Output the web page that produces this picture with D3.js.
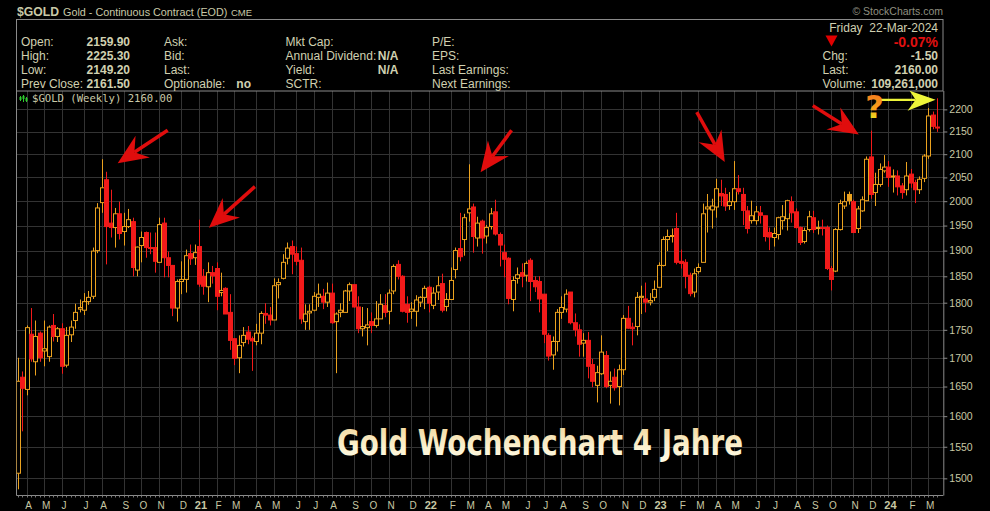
<!DOCTYPE html>
<html><head><meta charset="utf-8">
<script src="https://cdn.jsdelivr.net/npm/d3@7"></script>
<style>
html,body{margin:0;padding:0;background:#000;}
svg{display:block;}
text{white-space:pre;}
</style>
</head><body>
<svg id="c" width="990" height="511"></svg>
<script>
// ---------------- DATA ----------------
const firstWeek = "2020-03-23"; // Monday of first weekly candle
const opens = [1508,1666,1645,1742,1693,1744,1712,1702,1758,1738,1752,1687,1741,1767,1788,1786,1802,1812,1900,1997,
2045,1955,1946,1974,1938,1948,1958,1862,1910,1936,1906,1906,1877,1955,1886,1871,1790,1840,1844,1894,
1886,1908,1850,1830,1857,1865,1819,1827,1782,1734,1700,1727,1746,1734,1729,1744,1780,1777,1768,1834,
1846,1885,1908,1894,1881,1765,1781,1786,1810,1812,1801,1818,1765,1782,1782,1822,1834,1792,1752,1754,
1765,1758,1770,1795,1784,1822,1873,1850,1797,1784,1784,1801,1810,1829,1795,1820,1836,1793,1806,1863,
1904,1922,1976,1988,1925,1959,1929,1948,1978,1932,1896,1885,1806,1846,1857,1852,1881,1842,1840,1816,
1740,1705,1729,1782,1788,1820,1763,1750,1726,1731,1688,1652,1672,1704,1652,1666,1650,1679,1771,1755,
1756,1810,1807,1801,1810,1829,1871,1922,1928,1944,1879,1877,1852,1820,1859,1877,1984,1982,1988,2016,
2014,1991,1999,2026,2014,1980,1960,1960,1976,1970,1936,1926,1932,1960,1964,1999,1978,1946,1918,1942,
1966,1944,1946,1946,1865,1860,1942,1990,2014,1999,1944,1980,2001,2094,2018,2035,2064,2072,2053,2053,
2032,2024,2057,2039,2024,2048,2096,2187,2159.9];
const highs = [1700,1676,1758,1790,1767,1747,1767,1758,1779,1755,1762,1755,1767,1798,1806,1818,1822,1906,1996,2089,
2062,2024,1986,1999,1976,1984,1966,1908,1938,1938,1936,1936,1966,1966,1898,1872,1844,1879,1902,1912,
1912,1962,1864,1877,1870,1877,1857,1829,1816,1734,1740,1755,1757,1738,1761,1784,1799,1792,1846,1846,
1893,1916,1920,1908,1906,1797,1797,1820,1836,1826,1838,1836,1782,1799,1824,1838,1834,1812,1792,1790,
1782,1803,1816,1816,1825,1873,1881,1852,1812,1801,1814,1812,1832,1832,1829,1850,1855,1818,1867,1906,
1976,1974,2078,1995,1968,1962,1951,1986,2003,1936,1912,1887,1850,1867,1875,1879,1885,1850,1850,1816,
1744,1738,1788,1812,1825,1820,1780,1760,1744,1746,1698,1686,1740,1712,1676,1681,1688,1777,1794,1763,
1820,1832,1838,1818,1842,1877,1928,1942,1944,1976,1902,1883,1857,1865,1875,1995,2015,2005,2047,2045,
2028,2019,2085,2055,2028,1990,2001,1990,1990,1970,1946,1946,1968,1992,2003,2010,1985,1948,1946,1980,
1980,1960,1962,1950,1870,1945,2003,2020,2020,2003,1990,2010,2095,2152,2060,2080,2098,2085,2067,2065,
2038,2083,2068,2045,2052,2100,2203,2195,2225.3];
const lows = [1483,1575,1635,1693,1669,1693,1685,1693,1729,1728,1672,1683,1728,1752,1782,1777,1796,1807,1895,1976,
1873,1926,1906,1922,1910,1945,1850,1850,1877,1886,1893,1857,1877,1848,1848,1775,1765,1816,1819,1872,
1872,1830,1815,1801,1836,1786,1812,1779,1714,1687,1673,1720,1724,1677,1722,1724,1761,1758,1768,1808,
1844,1873,1854,1871,1761,1750,1750,1784,1792,1788,1792,1761,1673,1773,1782,1803,1791,1744,1738,1722,
1744,1754,1770,1773,1760,1816,1844,1782,1763,1770,1756,1792,1788,1782,1788,1805,1782,1784,1806,1846,
1879,1890,1958,1896,1908,1894,1914,1942,1930,1869,1848,1797,1784,1836,1829,1840,1803,1820,1782,1726,
1695,1679,1711,1770,1782,1760,1738,1702,1702,1664,1649,1623,1670,1647,1621,1643,1618,1670,1752,1722,
1740,1779,1782,1795,1803,1829,1869,1899,1916,1873,1865,1827,1812,1810,1855,1877,1936,1944,1966,1990,
1980,1982,1982,2014,1951,1934,1954,1952,1954,1918,1901,1908,1922,1942,1940,1956,1944,1911,1914,1938,
1935,1932,1930,1862,1823,1858,1940,1984,1993,1935,1935,1978,2000,2005,1990,2030,2060,2030,2018,2012,
2005,2012,2028,1996,2015,2040,2090,2155,2149.2];
const closes = [1659,1647,1754,1698,1738,1700,1716,1755,1738,1752,1685,1740,1755,1782,1791,1802,1810,1899,1986,2028,
1948,1946,1974,1934,1948,1962,1867,1907,1926,1906,1904,1879,1952,1886,1871,1790,1840,1844,1890,1884,
1896,1835,1831,1857,1851,1812,1823,1779,1731,1699,1722,1740,1733,1730,1744,1780,1777,1768,1832,1838,
1877,1905,1893,1879,1770,1779,1784,1812,1816,1801,1818,1763,1779,1786,1822,1834,1792,1752,1756,1759,
1758,1770,1797,1782,1818,1869,1850,1784,1782,1788,1805,1810,1827,1799,1818,1832,1786,1806,1842,1900,
1888,1966,1984,1928,1955,1925,1946,1974,1933,1911,1883,1808,1842,1853,1850,1875,1840,1830,1807,1742,
1703,1729,1782,1791,1816,1763,1750,1724,1731,1685,1659,1674,1710,1650,1659,1648,1679,1771,1753,1752,
1810,1812,1801,1804,1825,1871,1922,1928,1930,1877,1875,1850,1817,1855,1867,1974,1988,1990,2026,2011,
1990,1999,2026,2020,1981,1944,1970,1978,1971,1928,1927,1934,1966,1968,2001,1976,1946,1916,1940,1968,
1942,1946,1945,1865,1844,1942,1995,1999,2001,1936,1984,2003,2089,2014,2035,2067,2072,2050,2051,2030,
2018,2053,2038,2024,2046,2096,2185,2161.5,2160];

const priceTicks = [1500,1550,1600,1650,1700,1750,1800,1850,1900,1950,2000,2050,2100,2150,2200];
const monthLetters = ["J","F","M","A","M","J","J","A","S","O","N","D"];

const infoLabels = [["Open:","High:","Low:","Prev Close:"],["Ask:","Bid:","Last:","Optionable:"],
                    ["Mkt Cap:","Annual Dividend:","Yield:","SCTR:"],["P/E:","EPS:","Last Earnings:","Next Earnings:"]];
const infoValues = ["2159.90","2225.30","2149.20","2161.50"];
const rightLabels = ["Chg:","Last:","Volume:"];
const rightValues = ["-1.50","2160.00","109,261,000"];
const quoteDate = "Friday  22-Mar-2024";
const pctChange = "-0.07%";
const lastValue = "2160.00";
const redArrowTargets = [19, 41, 102, 162, 193]; // candles the red arrows point at
const titleText = "Gold Wochenchart 4 Jahre";

// ---------------- LAYOUT ----------------
const svg = d3.select("#c");
const P = {left:16.5, right:943.3, top:91, bottom:495.5};
const n = closes.length;
const x = d3.scaleLinear().domain([0, n-1]).range([17.7, 937.1]);
const y = d3.scaleLog().domain([1474.3, 2240]).range([495, 92]);
const start = d3.timeParse("%Y-%m-%d")(firstWeek);
const dates = closes.map((_, i) => d3.timeDay.offset(start, 7*i));

const ORANGE = "#eba21f", RED = "#f21a1a", TXT = "#d0d0b0", GRID = "#333333";
const SANS = "'Liberation Sans', Arial, sans-serif";

svg.append("rect").attr("width",990).attr("height",511).attr("fill","#000");

const defs = svg.append("defs");
defs.append("clipPath").attr("id","plotclip").append("rect")
  .attr("x",P.left).attr("y",P.top).attr("width",P.right-P.left).attr("height",P.bottom-P.top);
const tg = defs.append("linearGradient").attr("id","titlegrad").attr("x1",0).attr("y1",0).attr("x2",0).attr("y2",1);
tg.append("stop").attr("offset","0%").attr("stop-color","#f1d59a");
tg.append("stop").attr("offset","60%").attr("stop-color","#fbf1d0");
tg.append("stop").attr("offset","100%").attr("stop-color","#fffbe6");
const qg = defs.append("linearGradient").attr("id","qgrad").attr("x1",0).attr("y1",0).attr("x2",0).attr("y2",1);
qg.append("stop").attr("offset","0%").attr("stop-color","#f06a1e");
qg.append("stop").attr("offset","55%").attr("stop-color","#f8a21a");
qg.append("stop").attr("offset","75%").attr("stop-color","#f0d020");
qg.append("stop").attr("offset","100%").attr("stop-color","#eaea22");

// month starts
const monthStarts = [];
for (let i = 1; i < n; i++) if (dates[i].getMonth() !== dates[i-1].getMonth()) monthStarts.push(i);

// grid
const grid = svg.append("g");
grid.selectAll("line.h").data(priceTicks).join("line")
  .attr("x1",P.left).attr("x2",P.right).attr("y1",d=>Math.round(y(d))+0.5).attr("y2",d=>Math.round(y(d))+0.5)
  .attr("stroke",GRID).attr("stroke-width",1);
grid.selectAll("line.v").data(monthStarts).join("line")
  .attr("x1",d=>Math.round(x(d))+0.5).attr("x2",d=>Math.round(x(d))+0.5).attr("y1",P.top).attr("y2",P.bottom)
  .attr("stroke",GRID).attr("stroke-width",1);

// header
svg.append("text").attr("x",17).attr("y",16).attr("font-family",SANS).attr("font-weight","bold")
  .attr("font-size",13.5).attr("fill","#c9c9a8").attr("textLength",42).attr("lengthAdjust","spacingAndGlyphs").text("$GOLD");
svg.append("text").attr("x",63).attr("y",15.5).attr("font-family",SANS).attr("font-size",10.8)
  .attr("fill","#c9c9a8").text("Gold - Continuous Contract (EOD)");
svg.append("text").attr("x",231).attr("y",15.5).attr("font-family",SANS).attr("font-size",9.5)
  .attr("fill","#c9c9a8").text("CME");
svg.append("text").attr("x",943).attr("y",15).attr("text-anchor","end").attr("font-family",SANS).attr("font-size",10.5)
  .attr("fill","#8f8f80").text("\u00A9 StockCharts.com");

svg.append("rect").attr("x",16.5).attr("y",19.5).attr("width",926.5).attr("height",71.5)
  .attr("fill","none").attr("stroke","#8a8a8a").attr("stroke-width",1);

const rowY = [46,60,74,88];
const colX = [21,164,285.5,432];
infoLabels.forEach((col, c) => col.forEach((lab, r) => {
  svg.append("text").attr("x",colX[c]).attr("y",rowY[r]).attr("font-family",SANS).attr("font-size",12)
    .attr("fill",TXT).text(lab);
}));
infoValues.forEach((v, r) => svg.append("text").attr("x",130).attr("y",rowY[r]).attr("text-anchor","end")
  .attr("font-family",SANS).attr("font-size",12).attr("font-weight","bold").attr("fill",TXT).text(v));
svg.append("text").attr("x",251).attr("y",rowY[3]).attr("text-anchor","end").attr("font-family",SANS)
  .attr("font-size",12).attr("font-weight","bold").attr("fill",TXT).text("no");
[1,2].forEach(r => svg.append("text").attr("x",398.5).attr("y",rowY[r]).attr("text-anchor","end").attr("font-family",SANS)
  .attr("font-size",12).attr("font-weight","bold").attr("fill",TXT).text("N/A"));

svg.append("text").attr("x",938).attr("y",31.5).attr("text-anchor","end").attr("font-family",SANS)
  .attr("font-size",12).attr("fill",TXT).text(quoteDate);
svg.append("path").attr("d","M825.5,35.5 L837.5,35.5 L831.5,46.5 Z").attr("fill","#e00000");
svg.append("text").attr("x",938).attr("y",46.5).attr("text-anchor","end").attr("font-family",SANS)
  .attr("font-size",14).attr("font-weight","bold").attr("fill","#e01010").text(pctChange);
rightLabels.forEach((lab, k) => {
  svg.append("text").attr("x",822.5).attr("y",rowY[k+1]).attr("font-family",SANS).attr("font-size",12)
    .attr("fill",TXT).text(lab);
  svg.append("text").attr("x",938).attr("y",rowY[k+1]).attr("text-anchor","end").attr("font-family",SANS)
    .attr("font-size",12).attr("font-weight","bold").attr("fill",TXT).text(rightValues[k]);
});

// plot frame
svg.append("line").attr("x1",P.left).attr("x2",P.left).attr("y1",P.top).attr("y2",P.bottom).attr("stroke","#8a8a8a");
svg.append("line").attr("x1",P.left).attr("x2",P.right).attr("y1",P.bottom).attr("y2",P.bottom).attr("stroke","#8a8a8a");

// right axis
const yAxis = d3.axisRight(y).tickValues(priceTicks).tickFormat(d3.format("d")).tickSize(4).tickPadding(2);
const ya = svg.append("g").attr("transform",`translate(${P.right},0)`).call(yAxis);
ya.select(".domain").attr("stroke","#8a8a8a").attr("d",`M0.5,${P.top}V${P.bottom}`);
ya.selectAll(".tick line").attr("stroke","#8a8a8a");
ya.selectAll(".tick text").attr("fill","#c8c8a4").attr("font-family",SANS).attr("font-size",10.5);

// bottom axis
const xAxis = d3.axisBottom(x).tickValues(monthStarts).tickSize(0).tickPadding(6)
  .tickFormat(i => dates[i].getMonth() === 0 ? d3.timeFormat("%y")(dates[i]) : monthLetters[dates[i].getMonth()]);
const xa = svg.append("g").attr("transform",`translate(1.5,${P.bottom})`).call(xAxis);
xa.select(".domain").remove();
xa.selectAll(".tick text").attr("fill","#c8c8a4").attr("font-family",SANS)
  .attr("font-weight", i => dates[i].getMonth() === 0 ? "bold" : "normal")
  .attr("font-size", i => dates[i].getMonth() === 0 ? 11 : 10);
svg.append("g").selectAll("line").data(d3.range(n)).join("line")
  .attr("x1",i=>Math.round(x(i))+0.5).attr("x2",i=>Math.round(x(i))+0.5)
  .attr("y1",P.bottom).attr("y2",P.bottom+2).attr("stroke","#777");

// legend line
const lg = svg.append("g");
[[20.5,96,101,97,100],[23.5,95,102,96,99],[26.5,97,102,98,101]].forEach(([cx,h,l,o,c])=>{
  lg.append("line").attr("x1",cx).attr("x2",cx).attr("y1",h).attr("y2",l).attr("stroke","#2ecc2e");
  lg.append("rect").attr("x",cx-1).attr("y",o).attr("width",2).attr("height",c-o).attr("fill","#2ecc2e");
});
svg.append("text").attr("x",32).attr("y",102).attr("font-family","'DejaVu Sans Mono', monospace")
  .attr("font-size",10.6).attr("fill","#c9c9a8").text(`$GOLD (Weekly) ${lastValue}`);

// candles
const cg = svg.append("g").attr("clip-path","url(#plotclip)");
const candles = d3.range(n).map(i => ({
  i, o:opens[i], h:highs[i], l:lows[i], c:closes[i],
  up: i === 0 ? true : closes[i] >= closes[i-1],
  filled: closes[i] < opens[i]
}));
const bw = 3;
cg.selectAll("line.wick").data(candles).join("line")
  .attr("x1",d=>Math.round(x(d.i))+0.5).attr("x2",d=>Math.round(x(d.i))+0.5)
  .attr("y1",d=>y(d.h)).attr("y2",d=>y(d.l))
  .attr("stroke",d=>d.up?ORANGE:RED).attr("stroke-width",1);
cg.selectAll("rect.body").data(candles).join("rect")
  .attr("x",d=>Math.round(x(d.i))+0.5-bw/2-0.5)
  .attr("y",d=>y(Math.max(d.o,d.c)))
  .attr("width",bw+1)
  .attr("height",d=>Math.max(1, y(Math.min(d.o,d.c))-y(Math.max(d.o,d.c))))
  .attr("fill",d=>d.filled ? (d.up?ORANGE:RED) : "#000")
  .attr("stroke",d=>d.up?ORANGE:RED).attr("stroke-width",1);

// ---------------- ANNOTATIONS ----------------
const arrowLayout = [
  {dx:16, dy:4,  tx:50,  ty:-33},
  {dx:10, dy:8,  tx:46,  ty:-41},
  {dx:12, dy:8,  tx:31,  ty:-42},
  {dx:-9, dy:1,  tx:-28, ty:-50},
  {dx:-12,dy:4,  tx:-46, ty:-29}
];
const ag = svg.append("g");
redArrowTargets.forEach((idx, k) => {
  const L = arrowLayout[k];
  const tip = [x(idx)+L.dx, y(highs[idx])+L.dy];
  const tail = [tip[0]+L.tx, tip[1]+L.ty];
  const len = Math.hypot(L.tx, L.ty);
  const u = [L.tx/len, L.ty/len], p = [-u[1], u[0]];
  const HL = 30, HW = 13, NOTCH = 10;
  const base = [tip[0]+u[0]*HL, tip[1]+u[1]*HL];
  const notch = [tip[0]+u[0]*(HL-NOTCH), tip[1]+u[1]*(HL-NOTCH)];
  ag.append("line").attr("x1",notch[0]).attr("y1",notch[1]).attr("x2",tail[0]).attr("y2",tail[1])
    .attr("stroke","#e00d0d").attr("stroke-width",3.5);
  ag.append("path").attr("fill","#e00d0d").attr("d",
    `M${tip[0]},${tip[1]}L${base[0]+p[0]*HW},${base[1]+p[1]*HW}L${notch[0]},${notch[1]}L${base[0]-p[0]*HW},${base[1]-p[1]*HW}Z`);
});

// yellow arrow pointing at the last candle's high
const lastIdx = n-1;
const ytip = [x(lastIdx)-1.5, y(highs[lastIdx])+1.5];
svg.append("line").attr("x1",ytip[0]-55).attr("x2",ytip[0]-20).attr("y1",ytip[1]).attr("y2",ytip[1])
  .attr("stroke","#eef53a").attr("stroke-width",2.2);
svg.append("path").attr("fill","#eef53a").attr("d",
  `M${ytip[0]},${ytip[1]}L${ytip[0]-26},${ytip[1]-9}L${ytip[0]-20},${ytip[1]}L${ytip[0]-28},${ytip[1]+11}Z`);
svg.append("text").attr("x",ytip[0]-61).attr("y",ytip[1]+18).attr("text-anchor","middle")
  .attr("font-family","'DejaVu Sans', sans-serif").attr("font-weight","bold").attr("font-size",32)
  .attr("fill","url(#qgrad)").text("?");

// title
svg.append("text").attr("x",337).attr("y",455).attr("font-family","'DejaVu Sans Condensed','DejaVu Sans',sans-serif")
  .attr("font-stretch","condensed").attr("font-weight","bold").attr("font-size",35)
  .attr("textLength",406).attr("lengthAdjust","spacingAndGlyphs")
  .attr("fill","url(#titlegrad)").text(titleText);
</script>
</body></html>
